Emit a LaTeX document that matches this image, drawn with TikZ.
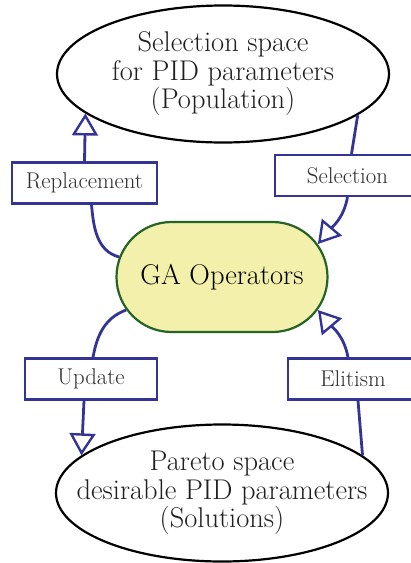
\documentclass[tikz,border=0pt]{standalone}
\usepackage{fontspec}
\usetikzlibrary{shapes.geometric,shapes.misc,arrows.meta}
\definecolor{flowblue}{RGB}{52,52,150}
\definecolor{opgreen}{RGB}{38,100,38}
\definecolor{opfill}{RGB}{242,240,170}
\begin{document}
\begin{tikzpicture}[x=1pt,y=1pt]
            \tikzset{
                region/.style={draw, ellipse, line width=2.2pt, minimum width=332pt, minimum height=137pt, inner xsep=-40pt, inner ysep=0pt, align=center, text=black!88, font=\fontsize{28.5}{28.5}\selectfont},
                core/.style={draw=opgreen, fill=opfill, rounded rectangle, line width=2.2pt, minimum width=211pt, minimum height=110pt, inner sep=0pt, font=\fontsize{28.5}{30}\selectfont},
                tagbox/.style={draw=flowblue, line width=2.2pt, minimum height=41pt, inner sep=0pt, text=black!82, font=\fontsize{22.8}{24}\selectfont},
                flow/.style={draw=flowblue, line width=2.8pt},
                flowarrow/.style={flow, -{Triangle[open, length=22pt, width=26pt, line width=2.4pt]}}
            }
            \useasboundingbox (0,0) rectangle (411,-563);

            \draw node[region] (pop) at (223,-74) {Selection space\\for PID parameters\\(Population)};
            \draw node[core] (ga) at (222,-277) {GA Operators};
            \draw node[region] (sol) at (222,-493) {Pareto space\\desirable PID parameters\\(Solutions)};
            \draw node[tagbox, minimum width=145pt] (repl) at (84.5,-183) {Replacement};
            \draw node[tagbox, minimum width=145pt] (sel) at (347.5,-175.5) {Selection};
            \draw node[tagbox, minimum width=132pt] (upd) at (91,-379) {Update};
            \draw node[tagbox, minimum width=130pt] (eli) at (353,-379) {Elitism};

            \draw[flow] (ga.169) to[out=165, in=-85] ([xshift=7pt]repl.south);
            \draw[flowarrow] (repl.north) -- (pop.196);
            \draw[flow] (pop.343) -- ([xshift=4pt]sel.north);
            \draw[flowarrow] (sel.south) to[out=-100, in=50] (ga.19);
            \draw[flow] (ga.199) to[out=200, in=80] ([xshift=2pt]upd.north);
            \draw[flowarrow] ([xshift=-7pt]upd.south) -- (sol.165);
            \draw[flow] (sol.15) -- ([xshift=5pt]eli.south);
            \draw[flowarrow] ([xshift=-5pt]eli.north) to[out=100, in=-50] (ga.-19);
        \end{tikzpicture}
\end{document}
